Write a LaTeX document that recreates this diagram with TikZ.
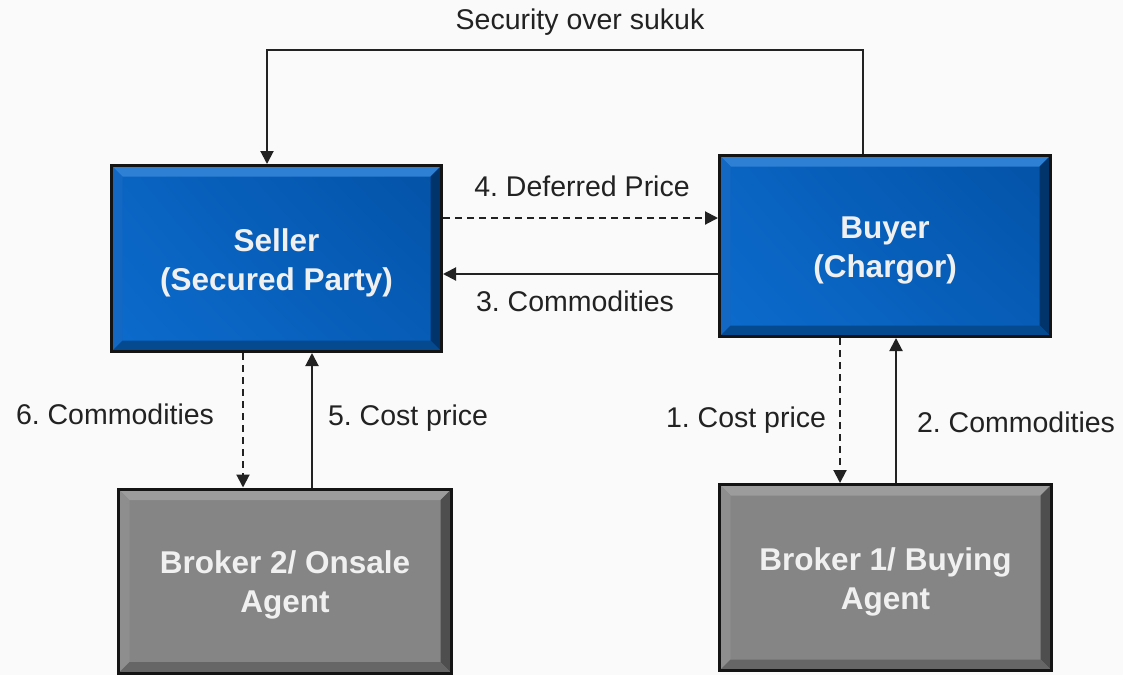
\documentclass[tikz,border=0pt]{standalone}
\usepackage{fontspec}
\setmainfont{Liberation Sans}
\usetikzlibrary{arrows.meta,shadings}
\frenchspacing
\definecolor{bgc}{HTML}{FAFAFA}
\definecolor{lblc}{HTML}{222222}
\definecolor{boxtxt}{HTML}{F0F0F0}
\definecolor{bfaceA}{HTML}{0C6BCD}
\definecolor{bfaceB}{HTML}{0352A6}
\definecolor{btop}{HTML}{2E80D4}
\definecolor{bleft}{HTML}{1268C2}
\definecolor{bright}{HTML}{02346C}
\definecolor{bbot}{HTML}{05498E}
\definecolor{gface}{HTML}{858585}
\definecolor{gtop}{HTML}{9C9C9C}
\definecolor{gleft}{HTML}{8E8E8E}
\definecolor{gright}{HTML}{4E4E4E}
\definecolor{gbot}{HTML}{666666}
\newcommand{\boxtext}[1]{\raisebox{-4.5pt}[\height][\depth]{\begin{tabular}{@{}c@{}}#1\end{tabular}}}
\tikzset{
  bevel/.style n args={4}{path picture={
    \fill[#1] (path picture bounding box.north west) -- (path picture bounding box.north east)
      -- ([xshift=-11pt,yshift=-11pt]path picture bounding box.north east)
      -- ([xshift=11pt,yshift=-11pt]path picture bounding box.north west) -- cycle;
    \fill[#2] (path picture bounding box.north west) -- (path picture bounding box.south west)
      -- ([xshift=11pt,yshift=11pt]path picture bounding box.south west)
      -- ([xshift=11pt,yshift=-11pt]path picture bounding box.north west) -- cycle;
    \fill[#3] (path picture bounding box.north east) -- (path picture bounding box.south east)
      -- ([xshift=-11pt,yshift=11pt]path picture bounding box.south east)
      -- ([xshift=-11pt,yshift=-11pt]path picture bounding box.north east) -- cycle;
    \fill[#4] (path picture bounding box.south west) -- (path picture bounding box.south east)
      -- ([xshift=-11pt,yshift=11pt]path picture bounding box.south east)
      -- ([xshift=11pt,yshift=11pt]path picture bounding box.south west) -- cycle;
  }},
  box/.style={draw=black!92, line width=3pt, align=center, text=boxtxt,
    font=\bfseries\fontsize{31.5}{39}\selectfont, inner sep=0pt},
  bluebox/.style={box, lower left=bfaceA, upper left=bfaceA!70!bfaceB,
    lower right=bfaceA!40!bfaceB, upper right=bfaceB, bevel={btop}{bleft}{bright}{bbot}},
  graybox/.style={box, fill=gface, bevel={gtop}{gleft}{gright}{gbot}},
  lbl/.style={text=lblc, font=\fontsize{28.5}{34}\selectfont, inner sep=0pt},
  conn/.style={draw=lblc, line width=2pt, -{Triangle[length=13pt,width=13pt]}},
  dconn/.style={conn, dash pattern=on 7pt off 5pt},
}
\begin{document}
\begin{tikzpicture}[x=1pt,y=-1pt]
\fill[bgc] (0,0) rectangle (1123,675);
\useasboundingbox (0,0) rectangle (1123,675);

\node[bluebox, minimum width=330pt, minimum height=186pt] (seller) at (276.5,258.5) {\boxtext{Seller\\(Secured Party)}};
\node[bluebox, minimum width=331pt, minimum height=181pt] (buyer) at (885,246) {\boxtext{Buyer\\(Chargor)}};
\node[graybox, minimum width=333pt, minimum height=184pt] (broker2) at (285,581) {\boxtext{Broker 2/ Onsale\\Agent}};
\node[graybox, minimum width=332pt, minimum height=186pt] (broker1) at (885.5,577.5) {\boxtext{Broker 1/ Buying\\Agent}};

% top connector
\coordinate (bt) at ([xshift=-22pt]buyer.north);
\coordinate (st) at ([xshift=-9.5pt]seller.north);
\coordinate (sec) at (580,50);
\draw[conn] (bt) |- (sec) -| (st);
\node[lbl] (lsec) at (580,22) {Security over sukuk};

% horizontal connectors
\coordinate (a4) at ([yshift=40.5pt]seller.east);
\draw[dconn] (a4) -- (a4 -| buyer.west);
\node[lbl] (l4) at (582,186) {4. Deferred Price};
\coordinate (a3) at ([yshift=-15.5pt]seller.east);
\draw[conn] (a3 -| buyer.west) -- (a3);
\node[lbl] (l3) at (575,301) {3. Commodities};

% left verticals
\coordinate (a6) at ([xshift=-33.5pt]seller.south);
\draw[dconn] (a6) -- (a6 |- broker2.north);
\node[lbl] (l6) at (115,414) {6. Commodities};
\coordinate (a5) at ([xshift=35.5pt]seller.south);
\draw[conn] (a5 |- broker2.north) -- (a5);
\node[lbl] (l5) at (408,418) {5. Cost price};

% right verticals
\coordinate (a1) at ([xshift=-45pt]buyer.south);
\draw[dconn] (a1) -- (a1 |- broker1.north);
\node[lbl] (l1) at (746,420) {1. Cost price};
\coordinate (a2) at ([xshift=11pt]buyer.south);
\draw[conn] (a2 |- broker1.north) -- (a2);
\node[lbl] (l2) at (1016,422) {2. Commodities};
\end{tikzpicture}
\end{document}
